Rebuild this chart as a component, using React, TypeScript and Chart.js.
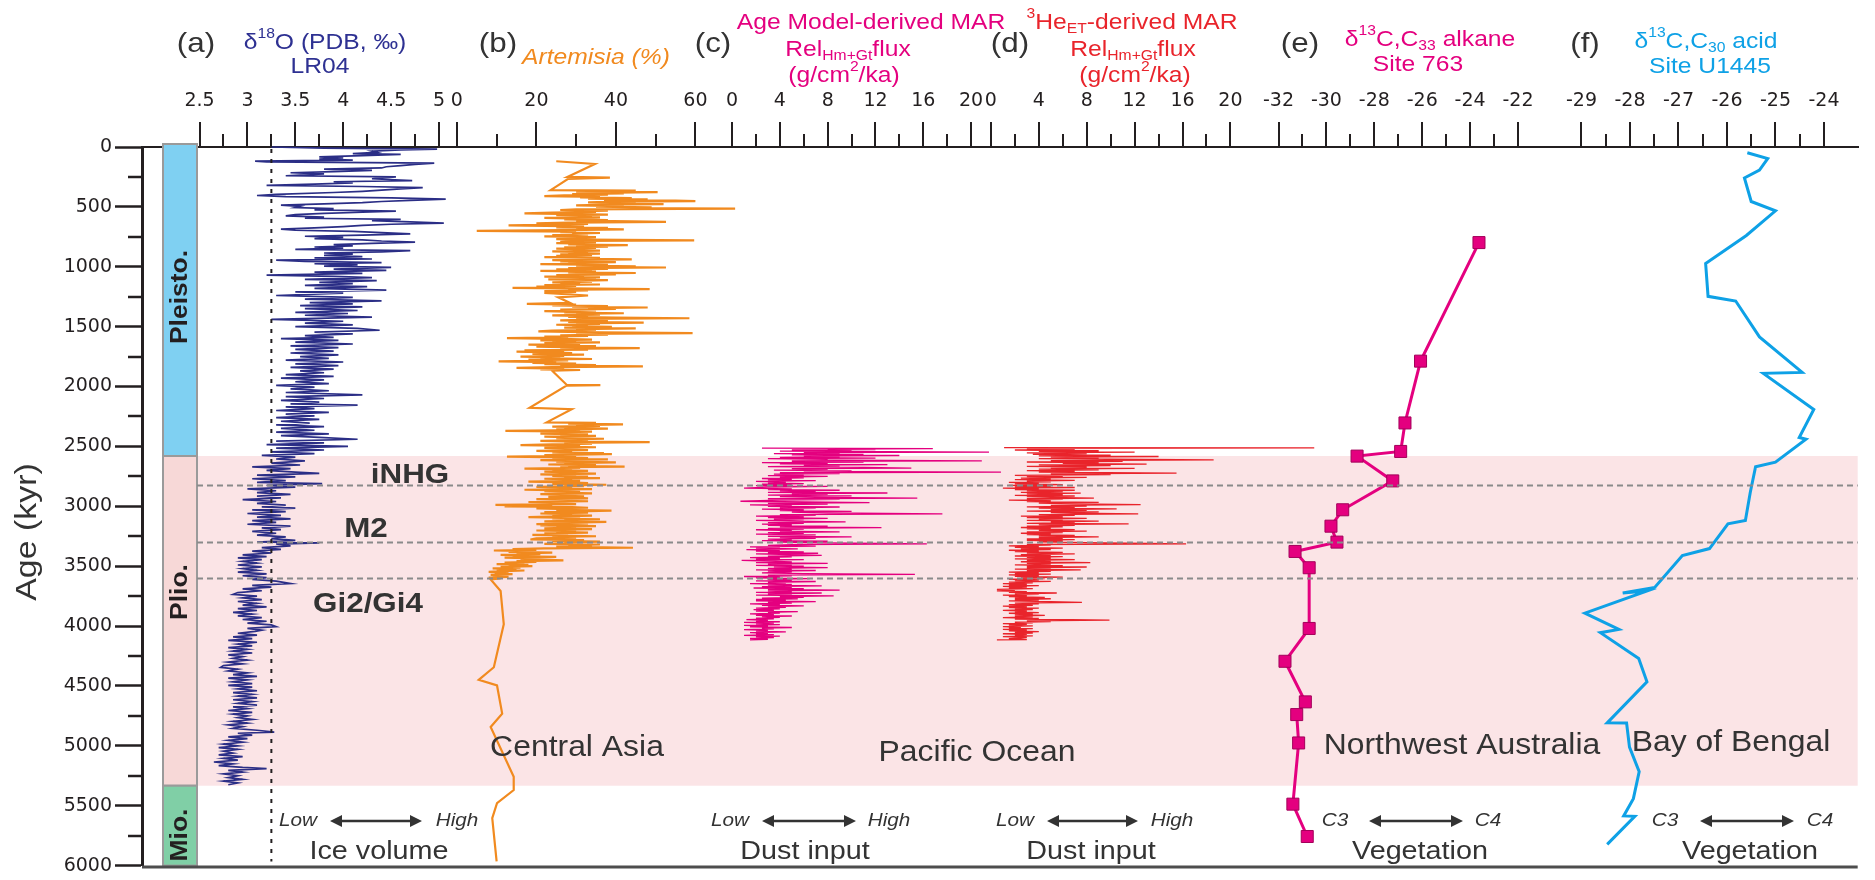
import React, { useEffect, useRef } from 'react';
import { Chart, registerables } from 'chart.js';

Chart.register(...registerables);

// ======================= DATA =======================
const AGE_TICKS = [0, 500, 1000, 1500, 2000, 2500, 3000, 3500, 4000, 4500, 5000, 5500, 6000];
const AGE_MINOR_TICKS = [250, 750, 1250, 1750, 2250, 2750, 3250, 3750, 4250, 4750, 5250, 5750];
const D18O_TICKS = [2.5, 3, 3.5, 4, 4.5, 5];
const D18O_MINOR_TICKS = [2.75, 3.25, 3.75, 4.25, 4.75];
const ARTEMISIA_TICKS = [0, 20, 40, 60];
const ARTEMISIA_MINOR_TICKS = [10, 30, 50];
const MAR_TICKS = [0, 4, 8, 12, 16, 20];
const MAR_MINOR_TICKS = [2, 6, 10, 14, 18];
const HE_TICKS = [0, 4, 8, 12, 16, 20];
const HE_MINOR_TICKS = [2, 6, 10, 14, 18];
const ALKANE_TICKS = [-32, -30, -28, -26, -24, -22];
const ALKANE_MINOR_TICKS = [-31, -29, -27, -25, -23];
const ACID_TICKS = [-29, -28, -27, -26, -25, -24];
const ACID_MINOR_TICKS = [-28.5, -27.5, -26.5, -25.5, -24.5];

const EPOCH_NAMES = ['Pleisto.', 'Plio.', 'Mio.'];
const EPOCH_BOUNDARIES = [0, 2580, 5333, 6000];
const PLIOCENE_BAND = [2580, 5333];
const EVENT_NAMES = ['iNHG', 'M2', 'Gi2/Gi4'];
const EVENT_AGES = [2820, 3300, 3600];
const ICE_VOLUME_REFERENCE = 3.25;

const REGION_NAMES = ['Central Asia', 'Pacific Ocean', 'Northwest Australia', 'Bay of Bengal'];
const PROXY_NAMES = ['Ice volume', 'Dust input', 'Dust input', 'Vegetation', 'Vegetation'];
const PROXY_LOW = ['Low', 'Low', 'Low', 'C3', 'C3'];
const PROXY_HIGH = ['High', 'High', 'High', 'C4', 'C4'];
const PANEL_LETTERS = ['(a)', '(b)', '(c)', '(d)', '(e)', '(f)'];

// [age kyr, δ18O ‰]
const LR04_D18O: [number, number][] = [
  [0, 3.25], [10, 3.8], [18, 4.98], [25, 4.6], [35, 4.3], [45, 4.35], [55, 4.1], [62, 4.6], [72, 4.2], [82, 3.75],
  [90, 4.0], [100, 3.75], [110, 4.1], [118, 3.08], [125, 3.2], [135, 4.95], [145, 4.75], [155, 4.6], [165, 4.45], [175, 4.4],
  [185, 3.8], [195, 4.3], [205, 3.9], [215, 3.45], [225, 3.8], [240, 3.4], [250, 4.55], [265, 4.3], [280, 4.72], [290, 3.9],
  [300, 4.1], [310, 3.7], [320, 3.2], [330, 4.2], [340, 4.83], [350, 4.6], [360, 4.4], [370, 4.2], [380, 3.9], [395, 3.3],
  [405, 3.1], [415, 3.4], [425, 4.5], [435, 5.07], [445, 4.7], [455, 4.4], [465, 4.2], [475, 3.8], [485, 3.35], [495, 3.55],
  [505, 3.5], [515, 3.9], [525, 3.7], [535, 4.55], [545, 4.2], [555, 3.8], [565, 3.5], [575, 3.4], [585, 3.8], [595, 3.6],
  [605, 4.6], [615, 4.3], [625, 4.7], [635, 5.05], [645, 4.5], [655, 4.2], [665, 4.0], [675, 3.7], [685, 3.35], [695, 3.5],
  [705, 4.1], [715, 4.4], [725, 4.7], [735, 4.2], [745, 3.6], [755, 4.0], [765, 3.7], [775, 4.2], [785, 4.4], [795, 4.75],
  [805, 4.3], [815, 3.9], [825, 4.1], [835, 3.7], [845, 4.0], [855, 3.5], [865, 4.7], [875, 4.4], [885, 3.8], [895, 4.1],
  [905, 3.8], [915, 4.2], [925, 3.7], [935, 4.3], [945, 3.3], [955, 3.6], [965, 4.4], [975, 3.7], [985, 4.15], [995, 3.8],
  [1005, 4.5], [1020, 3.9], [1030, 4.45], [1045, 3.7], [1055, 4.2], [1070, 3.2], [1080, 3.9], [1090, 4.3], [1105, 3.6], [1115, 4.35],
  [1130, 3.75], [1140, 4.1], [1155, 3.6], [1165, 4.25], [1180, 3.7], [1195, 4.45], [1210, 3.5], [1220, 4.0], [1240, 3.3], [1255, 4.1],
  [1270, 3.6], [1285, 4.4], [1300, 3.65], [1310, 4.1], [1325, 3.55], [1335, 4.2], [1350, 3.6], [1365, 4.15], [1380, 3.5], [1390, 4.05],
  [1405, 3.6], [1420, 4.3], [1440, 3.25], [1455, 4.0], [1470, 3.6], [1485, 4.1], [1500, 3.5], [1515, 4.15], [1530, 4.38], [1545, 3.7],
  [1560, 4.1], [1575, 3.6], [1590, 3.9], [1600, 3.35], [1615, 3.95], [1630, 3.5], [1645, 4.1], [1660, 3.45], [1675, 3.95], [1690, 3.5],
  [1705, 3.9], [1720, 3.45], [1735, 3.95], [1750, 3.55], [1765, 3.85], [1780, 3.4], [1795, 4.0], [1810, 3.5], [1825, 3.95], [1840, 3.45],
  [1855, 3.9], [1870, 3.55], [1885, 3.8], [1900, 3.4], [1915, 3.9], [1930, 3.35], [1945, 3.8], [1960, 3.5], [1975, 3.85], [1990, 3.3],
  [2005, 3.7], [2020, 3.45], [2035, 3.85], [2050, 3.4], [2070, 4.2], [2085, 3.4], [2100, 3.8], [2115, 3.35], [2130, 3.75], [2145, 3.45],
  [2155, 4.15], [2170, 3.4], [2185, 3.7], [2200, 3.3], [2215, 3.85], [2230, 3.4], [2245, 3.7], [2260, 3.3], [2275, 3.75], [2290, 3.35],
  [2305, 3.65], [2320, 3.3], [2335, 3.8], [2350, 3.35], [2365, 3.7], [2380, 3.3], [2395, 3.85], [2410, 3.35], [2425, 3.75], [2440, 4.15],
  [2455, 3.3], [2470, 3.8], [2485, 3.2], [2500, 4.05], [2515, 3.3], [2530, 3.8], [2545, 3.25], [2560, 3.7], [2575, 3.15], [2590, 3.5],
  [2605, 3.3], [2620, 3.6], [2640, 3.25], [2655, 3.55], [2670, 3.05], [2685, 3.45], [2700, 3.2], [2715, 3.5], [2725, 3.75], [2740, 3.1],
  [2755, 3.5], [2770, 3.05], [2785, 3.4], [2800, 3.1], [2810, 3.78], [2825, 3.2], [2840, 3.5], [2855, 3.0], [2870, 3.3], [2885, 3.1],
  [2900, 3.45], [2915, 3.1], [2930, 3.35], [2945, 2.95], [2960, 3.3], [2975, 3.1], [2990, 3.4], [3005, 3.15], [3015, 3.5], [3030, 3.05],
  [3045, 3.4], [3060, 3.0], [3075, 3.35], [3090, 3.1], [3105, 3.45], [3120, 3.05], [3135, 3.3], [3150, 3.0], [3165, 3.45], [3180, 3.15],
  [3195, 3.35], [3210, 3.05], [3225, 3.3], [3240, 3.1], [3255, 3.4], [3270, 3.25], [3285, 3.5], [3298, 3.1], [3305, 3.75], [3315, 3.3],
  [3330, 3.45], [3345, 3.15], [3360, 3.35], [3375, 3.05], [3390, 3.25], [3405, 2.95], [3420, 3.2], [3430, 2.9], [3445, 3.15], [3460, 2.95],
  [3475, 3.1], [3490, 2.9], [3505, 3.15], [3520, 2.95], [3535, 3.1], [3550, 2.9], [3565, 3.2], [3580, 2.95], [3595, 3.2], [3610, 3.05],
  [3625, 3.3], [3645, 3.45], [3660, 3.05], [3675, 3.25], [3690, 2.95], [3705, 3.15], [3720, 2.9], [3735, 2.85], [3750, 3.1], [3765, 2.95],
  [3780, 3.15], [3795, 2.9], [3810, 3.1], [3825, 2.95], [3840, 3.2], [3855, 2.9], [3870, 3.1], [3885, 2.85], [3900, 3.05], [3915, 2.9],
  [3930, 3.15], [3945, 2.95], [3960, 3.2], [3975, 3.0], [3990, 3.25], [4005, 3.3], [4020, 3.0], [4035, 3.15], [4045, 3.08], [4060, 2.9],
  [4075, 3.1], [4090, 2.85], [4105, 3.05], [4120, 2.8], [4135, 3.1], [4150, 2.9], [4165, 3.05], [4180, 2.8], [4195, 3.0], [4210, 2.85],
  [4225, 3.05], [4240, 2.8], [4255, 2.95], [4270, 2.85], [4285, 3.0], [4300, 2.8], [4315, 2.95], [4330, 2.75], [4345, 2.72], [4360, 2.9],
  [4375, 2.8], [4390, 3.0], [4405, 2.85], [4420, 3.1], [4435, 2.8], [4450, 3.0], [4465, 2.85], [4480, 3.05], [4495, 2.8], [4510, 3.05],
  [4525, 2.9], [4540, 3.1], [4555, 2.85], [4570, 3.05], [4585, 2.9], [4600, 3.1], [4615, 2.85], [4630, 3.05], [4645, 2.9], [4660, 3.1],
  [4675, 2.85], [4690, 3.0], [4705, 2.8], [4720, 3.05], [4735, 2.85], [4750, 3.0], [4765, 2.9], [4780, 3.05], [4795, 2.85], [4810, 3.0],
  [4825, 2.8], [4840, 2.95], [4855, 2.85], [4870, 3.1], [4885, 3.28], [4895, 2.9], [4910, 3.05], [4925, 2.8], [4940, 3.0], [4955, 2.8],
  [4970, 2.95], [4985, 2.75], [5000, 2.9], [5015, 2.7], [5030, 2.9], [5045, 2.75], [5060, 2.85], [5075, 2.7], [5090, 2.95], [5105, 2.75],
  [5120, 2.9], [5135, 2.65], [5150, 2.85], [5165, 2.7], [5180, 2.95], [5190, 3.2], [5205, 2.8], [5220, 2.95], [5235, 2.75], [5250, 2.9],
  [5265, 2.8], [5280, 2.95], [5295, 2.75], [5310, 2.9], [5325, 2.8],
];

// [age kyr, Artemisia %]
const ARTEMISIA: [number, number][] = [
  [119, 25], [142, 34.7], [250, 27.8], [255, 38.5], [266, 28], [360, 23.6],
  [365, 45], [372, 30], [377, 50.5], [383, 35], [388, 42], [393, 29], [398, 38], [404, 27], [410, 22], [416, 36],
  [421, 31], [427, 44], [432, 33], [438, 48], [443, 37], [447, 55], [452, 60], [456, 40], [462, 33], [467, 45],
  [472, 38], [477, 52], [482, 36], [487, 30], [493, 42], [498, 35], [504, 49], [510, 41], [515, 70], [520, 30],
  [526, 26], [531, 38], [537, 28], [542, 35], [548, 24], [554, 17], [560, 30], [565, 38], [570, 25], [576, 34],
  [581, 29], [587, 36], [592, 22], [598, 31], [604, 27], [610, 38], [615, 30], [620, 44], [626, 52.6], [632, 28],
  [637, 20], [643, 33], [648, 26], [654, 13], [660, 27], [665, 32], [671, 25], [676, 38], [682, 30], [688, 42],
  [694, 27], [701, 5], [706, 30], [712, 26], [718, 36], [723, 29], [729, 33], [735, 24], [741, 30], [746, 22],
  [752, 35], [758, 27], [763, 31], [769, 25], [774, 33], [779, 59.7], [785, 30], [791, 26], [797, 35], [803, 25],
  [808, 33], [814, 28], [820, 43], [826, 30], [832, 38], [837, 27], [843, 35], [849, 25], [855, 32], [860, 29],
  [866, 36], [872, 24], [878, 33], [884, 28], [890, 36], [896, 26], [902, 34], [908, 25], [914, 31], [920, 22],
  [926, 36], [932, 28], [938, 44], [944, 24], [950, 34], [956, 26], [962, 40], [968, 28], [973, 35], [978, 21],
  [984, 38], [990, 30], [996, 45], [1001, 33], [1006, 52.6], [1012, 28], [1017, 38], [1022, 25], [1028, 34], [1034, 21],
  [1040, 35], [1046, 28], [1052, 45], [1058, 30], [1064, 40], [1070, 25], [1076, 32], [1082, 22], [1088, 36], [1094, 27],
  [1100, 35], [1106, 23], [1112, 38], [1118, 29], [1124, 34], [1130, 24], [1136, 31], [1142, 26], [1148, 36], [1154, 22],
  [1160, 30], [1166, 20], [1172, 27], [1177, 14], [1182, 35], [1186, 48.5], [1192, 28], [1198, 33], [1204, 22], [1210, 30],
  [1219, 22], [1240, 33], [1255, 25.5], [1302, 28.5], [1310, 17.6], [1316, 30], [1322, 24], [1328, 38], [1334, 29], [1340, 48],
  [1346, 33], [1352, 40], [1358, 26], [1364, 35], [1370, 22], [1376, 31], [1382, 27], [1388, 42], [1394, 30], [1400, 36],
  [1406, 24], [1412, 33], [1418, 28], [1424, 40], [1430, 58.5], [1436, 30], [1442, 35], [1448, 26], [1454, 38], [1460, 28],
  [1466, 47], [1472, 30], [1478, 36], [1484, 25], [1490, 33], [1496, 29], [1502, 39], [1508, 27], [1514, 45], [1520, 30],
  [1526, 35], [1532, 24], [1540, 20.5], [1547, 36], [1554, 59.3], [1560, 30], [1566, 38], [1572, 26], [1578, 33], [1584, 22],
  [1590, 28], [1596, 12.6], [1602, 26], [1608, 34], [1614, 21], [1620, 30], [1626, 24], [1632, 36], [1638, 22], [1644, 31],
  [1650, 18], [1656, 28], [1662, 35], [1668, 20], [1674, 30], [1679, 46], [1685, 26], [1691, 33], [1697, 17], [1703, 27],
  [1709, 15], [1715, 24], [1721, 29], [1727, 19], [1733, 32], [1739, 22], [1745, 27], [1751, 16], [1757, 26], [1763, 21],
  [1770, 34], [1776, 18], [1782, 28], [1790, 10.5], [1796, 25], [1802, 19], [1808, 30], [1814, 22], [1820, 35], [1826, 26],
  [1831, 46.8], [1838, 24], [1844, 15], [1850, 27], [1856, 21], [1862, 31], [1868, 24], [1878, 24.3],
  [1985, 27.6], [1988, 36.1], [1992, 27.6], [2177, 18.3], [2189, 28.9], [2299, 22.6],
  [2303, 35], [2310, 28], [2316, 41.8], [2322, 30], [2328, 36], [2334, 24], [2340, 33], [2346, 27], [2352, 38], [2358, 25],
  [2364, 31], [2371, 12.2], [2376, 34], [2382, 24], [2388, 29], [2394, 21], [2400, 33], [2406, 26], [2412, 35], [2418, 22],
  [2424, 30], [2430, 25], [2436, 37], [2442, 28], [2448, 33], [2454, 21], [2460, 29], [2465, 48.5], [2471, 27], [2477, 34],
  [2483, 24], [2489, 16], [2495, 31], [2501, 26], [2507, 35], [2513, 22], [2519, 30], [2525, 25], [2531, 33], [2537, 20],
  [2543, 29], [2549, 24], [2555, 37], [2561, 28], [2565, 39], [2572, 22], [2578, 30], [2585, 12.6], [2591, 28], [2597, 33],
  [2603, 24], [2609, 38], [2615, 21], [2621, 31], [2627, 25], [2633, 40], [2639, 27], [2645, 33], [2651, 23], [2657, 35],
  [2662, 28], [2668, 42.2], [2674, 26], [2680, 31], [2686, 17], [2692, 29], [2698, 24], [2704, 33], [2710, 22], [2716, 28],
  [2722, 25], [2728, 35], [2734, 21], [2740, 30], [2746, 24], [2752, 33], [2758, 27], [2764, 36], [2770, 22], [2776, 29],
  [2782, 25], [2788, 31], [2794, 18], [2800, 28], [2806, 33], [2812, 24], [2820, 37.6], [2826, 27], [2832, 32], [2838, 20],
  [2844, 29], [2850, 24], [2856, 34], [2862, 17], [2868, 27], [2874, 22], [2880, 31], [2886, 26], [2892, 34], [2898, 21],
  [2904, 29], [2910, 25], [2916, 32], [2922, 23], [2928, 30], [2934, 33], [2940, 20], [2946, 28], [2952, 24], [2958, 33],
  [2964, 18], [2970, 27], [2976, 22], [2982, 30], [2988, 9.7], [2994, 24], [3000, 12], [3006, 29], [3012, 33], [3018, 20],
  [3024, 28], [3030, 25], [3036, 38.9], [3042, 30], [3048, 22], [3054, 33], [3060, 21], [3066, 29], [3072, 24], [3078, 34],
  [3084, 26], [3090, 18], [3096, 31], [3102, 24], [3108, 36], [3114, 27], [3120, 32], [3126, 22], [3130, 37.6], [3136, 28],
  [3142, 33], [3148, 20], [3154, 27], [3160, 21], [3166, 35], [3172, 25], [3178, 30], [3184, 22], [3190, 34], [3196, 27],
  [3202, 20], [3208, 30], [3214, 25], [3220, 33], [3226, 22], [3232, 28], [3238, 19], [3244, 26], [3250, 35], [3256, 24],
  [3262, 30], [3268, 20], [3277, 18.5], [3283, 32], [3289, 24], [3295, 36], [3301, 27], [3307, 31], [3313, 22], [3319, 36],
  [3325, 28], [3331, 34], [3337, 25], [3346, 44.3], [3352, 22], [3358, 14], [3364, 20], [3369, 9.3], [3375, 18], [3381, 13],
  [3387, 24], [3393, 15], [3399, 21], [3405, 11], [3411, 19], [3417, 14], [3423, 25], [3429, 12], [3435, 20], [3441, 16],
  [3447, 23], [3452, 26.8], [3458, 15], [3464, 20], [3470, 12], [3476, 17], [3482, 10], [3488, 18], [3494, 13], [3500, 19],
  [3506, 11], [3512, 16], [3518, 9], [3524, 15], [3530, 10], [3536, 17], [3542, 12], [3548, 8], [3554, 13], [3560, 9.5],
  [3566, 14], [3572, 8.5], [3578, 12], [3584, 9], [3590, 13], [3596, 8], [3602, 11], [3610, 8.5],
  [3707, 11], [3984, 11.8], [4344, 9.3], [4449, 5.5], [4496, 10.1], [4731, 11.4], [4842, 8.5], [5258, 14.3],
  [5369, 14.3], [5479, 10.1], [5604, 8.9], [5964, 10],
];

// [age kyr, Age-model-derived MAR g/cm2/ka]
const MAR_AGE_MODEL: [number, number][] = [
  [2515, 2.5], [2518, 16.8], [2522, 8], [2526, 12], [2530, 5], [2535, 10], [2540, 4], [2548, 21.5], [2552, 6], [2556, 9],
  [2561, 3.5], [2566, 11], [2571, 5], [2576, 14], [2581, 6], [2586, 9], [2591, 4], [2597, 12], [2602, 3], [2608, 8],
  [2613, 5], [2620, 20.9], [2625, 5], [2630, 11], [2635, 2.5], [2641, 8], [2646, 4], [2652, 13], [2657, 6], [2663, 9],
  [2669, 3], [2675, 11], [2681, 15], [2686, 5], [2692, 8], [2698, 3.5], [2704, 10], [2709, 6], [2715, 22.5], [2720, 4],
  [2726, 9], [2732, 3.5], [2738, 6], [2744, 3], [2750, 8], [2756, 4], [2762, 6], [2768, 2.5], [2774, 5], [2780, 3],
  [2786, 7], [2792, 2], [2798, 4.5], [2804, 3], [2810, 6], [2816, 2.5], [2822, 5], [2828, 2], [2834, 8], [2840, 3],
  [2848, 1], [2854, 5], [2860, 3], [2866, 9], [2872, 4], [2878, 7], [2884, 3], [2889, 13], [2895, 5], [2901, 8],
  [2907, 3], [2913, 10], [2919, 4], [2925, 7], [2931, 15.5], [2937, 3], [2943, 9], [2949, 4], [2958, 0.7], [2964, 6],
  [2970, 11.5], [2976, 3], [2982, 8], [2988, 1.5], [2994, 5], [3000, 3], [3006, 9], [3012, 4], [3018, 7], [3024, 2.5],
  [3030, 6], [3036, 4], [3042, 10], [3048, 5], [3056, 8], [3064, 17.6], [3070, 4], [3076, 7], [3082, 2], [3088, 6],
  [3094, 3], [3100, 8], [3106, 3.5], [3112, 6], [3118, 2], [3124, 5], [3130, 9.5], [3136, 3], [3142, 6], [3148, 2.5],
  [3154, 5], [3160, 3], [3166, 8], [3172, 4], [3178, 12.5], [3184, 3], [3190, 6], [3196, 2], [3202, 5], [3208, 4],
  [3214, 9], [3220, 3], [3226, 6], [3232, 2], [3238, 7], [3244, 5], [3250, 3], [3256, 10], [3262, 4], [3268, 7],
  [3274, 3], [3280, 5], [3286, 2.5], [3292, 8], [3298, 4], [3304, 6], [3313, 16.3], [3320, 5], [3326, 3], [3332, 7],
  [3338, 1.5], [3344, 4], [3350, 2], [3356, 5.5], [3362, 1.2], [3368, 4], [3374, 2], [3380, 6], [3386, 3], [3392, 7.2],
  [3398, 2], [3404, 5], [3410, 7.5], [3416, 3], [3422, 5], [3428, 1.5], [3434, 4], [3440, 2], [3446, 6], [3452, 0.8],
  [3458, 3], [3464, 5], [3470, 2], [3476, 8], [3482, 3], [3488, 5], [3494, 2], [3500, 6], [3506, 3.5], [3512, 8],
  [3518, 3], [3524, 5], [3530, 2], [3536, 7], [3542, 3], [3548, 5], [3556, 2.5], [3562, 6], [3568, 15.3], [3574, 3],
  [3580, 5], [3586, 1], [3592, 4], [3598, 2], [3604, 6.5], [3610, 3], [3616, 5], [3622, 2], [3628, 7], [3634, 3],
  [3640, 4.5], [3646, 1.5], [3652, 5], [3658, 3], [3664, 7.5], [3670, 2.5], [3676, 5], [3682, 1.8], [3688, 6], [3694, 3],
  [3700, 9], [3706, 3], [3712, 5], [3718, 2], [3724, 7.5], [3730, 3], [3736, 5], [3742, 2], [3748, 8.5], [3754, 4],
  [3760, 6], [3766, 2.5], [3772, 5.5], [3778, 2], [3784, 4.5], [3790, 2], [3796, 7], [3802, 3], [3808, 5], [3814, 1.5],
  [3820, 4], [3826, 2.5], [3832, 6], [3838, 3], [3844, 4.5], [3850, 2], [3856, 4], [3862, 1.8], [3868, 3.5], [3874, 2],
  [3880, 5.5], [3886, 3], [3892, 4], [3898, 1.5], [3904, 3.5], [3910, 2], [3916, 5], [3922, 2.5], [3928, 4], [3934, 2],
  [3940, 3.5], [3946, 1.2], [3952, 3], [3958, 2], [3964, 4], [3970, 1], [3976, 3.5], [3982, 2], [3988, 4], [3994, 1],
  [4000, 3], [4006, 1.5], [4012, 5], [4018, 2.5], [4024, 3.5], [4030, 1], [4036, 3], [4042, 2], [4048, 4.5], [4054, 1.5],
  [4060, 3], [4066, 2], [4072, 3.5], [4078, 1], [4084, 4], [4090, 2], [4096, 3.5], [4102, 1.5], [4110, 3], [4116, 1.5],
];

// [age kyr, 3He-derived MAR g/cm2/ka]
const MAR_HE3: [number, number][] = [
  [2510, 1.1], [2513, 27], [2518, 3], [2524, 7], [2530, 2], [2536, 9], [2542, 4], [2548, 12], [2554, 3], [2560, 8],
  [2566, 3.5], [2572, 10], [2578, 4], [2584, 14], [2590, 5], [2596, 9], [2602, 4], [2612, 18.6], [2618, 5], [2624, 11],
  [2630, 3], [2636, 9], [2642, 6], [2648, 13], [2654, 4], [2660, 10], [2666, 3], [2672, 8], [2678, 5], [2684, 12],
  [2690, 4], [2696, 9], [2702, 3], [2708, 7], [2714, 4], [2723, 15.5], [2729, 5], [2735, 10], [2741, 2], [2747, 6],
  [2753, 3], [2759, 8], [2765, 2.5], [2771, 5], [2777, 2], [2783, 7], [2789, 3], [2795, 5], [2801, 1.5], [2807, 4],
  [2813, 2], [2819, 6], [2825, 1.5], [2831, 5], [2837, 2], [2843, 7], [2848, 1], [2854, 4], [2860, 2], [2866, 7],
  [2872, 3], [2878, 6], [2884, 2.5], [2890, 7.5], [2896, 3], [2902, 6], [2908, 2], [2914, 7], [2920, 3], [2926, 5],
  [2931, 8.6], [2937, 3], [2943, 6], [2949, 1.5], [2955, 5], [2961, 3], [2967, 9], [2973, 4], [2979, 7], [2986, 12.5],
  [2992, 5], [2998, 8], [3004, 3], [3010, 7], [3016, 4], [3022, 10.5], [3028, 5], [3034, 8], [3040, 3], [3046, 9],
  [3052, 5], [3058, 7], [3064, 12.3], [3070, 4], [3076, 7], [3082, 2.5], [3088, 6], [3094, 3], [3100, 8], [3106, 4],
  [3112, 6], [3118, 3], [3124, 9], [3130, 5], [3136, 7], [3142, 3], [3147, 11.5], [3153, 4], [3159, 7], [3165, 3],
  [3171, 6], [3177, 2.5], [3183, 5], [3189, 3], [3195, 7], [3201, 4], [3207, 8], [3213, 3], [3219, 6], [3225, 2.5],
  [3231, 5], [3237, 3], [3243, 7], [3249, 4], [3255, 9], [3261, 4], [3267, 6], [3273, 3], [3279, 7], [3285, 3],
  [3291, 6], [3297, 4], [3303, 8], [3313, 16.3], [3319, 3], [3325, 5], [3331, 1.5], [3337, 4], [3343, 2], [3349, 6],
  [3355, 2.5], [3361, 5], [3367, 1.5], [3373, 4], [3379, 2], [3385, 6], [3391, 3], [3397, 7], [3403, 2.5], [3409, 5],
  [3415, 2], [3421, 6], [3427, 3], [3433, 5], [3439, 2], [3445, 7], [3451, 3], [3457, 5], [3463, 2.5], [3471, 8.3],
  [3477, 3], [3483, 5], [3489, 2], [3495, 6], [3501, 3], [3507, 8], [3513, 3], [3519, 5], [3525, 2], [3531, 7.5],
  [3537, 3], [3543, 5], [3549, 1.5], [3555, 4], [3561, 2], [3567, 5], [3573, 1.5], [3579, 4], [3585, 2], [3591, 6],
  [3597, 2.5], [3603, 4.5], [3609, 1.5], [3615, 4], [3621, 2], [3627, 5], [3633, 1.5], [3639, 3.5], [3645, 1], [3651, 3],
  [3657, 1.5], [3663, 4], [3669, 1], [3675, 3], [3681, 1.5], [3687, 3.5], [3693, 0.5], [3699, 2], [3706, 0.5], [3712, 3],
  [3718, 1.5], [3724, 5.5], [3730, 2], [3736, 4], [3742, 1], [3748, 3], [3754, 1.5], [3760, 4.5], [3766, 2], [3772, 5],
  [3778, 2], [3784, 4], [3790, 1.5], [3796, 5], [3803, 7.6], [3809, 2], [3815, 4], [3821, 1.5], [3827, 3.5], [3833, 1],
  [3839, 3], [3845, 1.5], [3851, 4], [3857, 2], [3863, 3.5], [3869, 1], [3875, 3], [3881, 2], [3887, 4], [3893, 1.5],
  [3899, 3.5], [3905, 2], [3911, 4.5], [3917, 2], [3923, 3.5], [3929, 1], [3935, 4], [3941, 2], [3950, 9.9], [3956, 3],
  [3962, 5], [3968, 2], [3974, 3.5], [3980, 1], [3986, 3], [3992, 1.5], [3998, 3.5], [4004, 1], [4010, 2.5], [4016, 1.5],
  [4022, 3.5], [4028, 1], [4034, 3], [4040, 1.5], [4046, 4], [4052, 2], [4058, 3.5], [4064, 1], [4070, 3], [4076, 2],
  [4082, 3.5], [4088, 1], [4094, 3], [4100, 2.5], [4106, 1.5], [4112, 3], [4116, 0.5],
];

// [age kyr, δ13C C33 alkane ‰] Site 763
const ALKANE_763: [number, number][] = [
  [798, -23.63], [1788, -26.07], [2304, -26.72], [2542, -26.9], [2581, -28.72], [2788, -27.23], [3029, -29.32],
  [3166, -29.81], [3299, -29.56], [3377, -31.31], [3513, -30.72], [4020, -30.72], [4294, -31.73], [4633, -30.88],
  [4739, -31.24], [4976, -31.16], [5487, -31.4], [5757, -30.8],
];

// [age kyr, δ13C C30 acid ‰] Site U1445
const ACID_U1445: [number, number][] = [
  [48, -25.58], [96, -25.16], [193, -25.33], [259, -25.64], [455, -25.5], [533, -25.0], [739, -25.6], [973, -26.44],
  [1247, -26.39], [1286, -25.82], [1586, -25.33], [1882, -24.45], [1890, -25.25], [2191, -24.21], [2425, -24.51],
  [2440, -24.37], [2631, -25.0], [2670, -25.41], [2885, -25.52], [3119, -25.62], [3146, -25.98], [3353, -26.36],
  [3411, -26.92], [3677, -27.49], [3724, -28.15], [3708, -27.66], [3892, -28.93], [4028, -28.23], [4055, -28.61],
  [4270, -27.82], [4465, -27.65], [4808, -28.47], [4810, -28.07], [5011, -28.01], [5215, -27.81], [5441, -27.93],
  [5585, -28.13], [5589, -27.9], [5823, -28.47],
];

// ======================= STYLE / LAYOUT =======================
const W = 1875;
const H = 880;
const INK = '#231f20';
const TEXT = '#333333';
const NAVY = '#2b2e86';
const ORANGE = '#f18a1f';
const MAGENTA = '#e4007f';
const RED = '#e9242b';
const CYAN = '#0ea1e6';
const BAND = '#fbe4e6';
const EPOCH_COLORS = ['#7fd0f2', '#f7d8d7', '#80cfa6'];
const FONT = "'Liberation Sans', Arial, Helvetica, sans-serif";
const TICK_FONT = "'DejaVu Sans', 'Liberation Sans', sans-serif";

const PLOT_LEFT = 142;
const PLOT_RIGHT = 1872;
const TOP_AXIS_HEIGHT = 147;
const COLUMN_X = [163, 197];

// anchors: [value0, px0, value1, px1]; slot: [left px, right px]
const PANELS = [
  { id: 'xa', ticks: D18O_TICKS, minor: D18O_MINOR_TICKS, anchor: [2.5, 200, 5, 441.5], slot: [PLOT_LEFT, 450.5] },
  { id: 'xb', ticks: ARTEMISIA_TICKS, minor: ARTEMISIA_MINOR_TICKS, anchor: [0, 459.5, 60, 700], slot: [450.5, 718] },
  { id: 'xc', ticks: MAR_TICKS, minor: MAR_MINOR_TICKS, anchor: [0, 737, 20, 978], slot: [718, 988] },
  { id: 'xd', ticks: HE_TICKS, minor: HE_MINOR_TICKS, anchor: [0, 998, 20, 1239.5], slot: [988, 1260] },
  { id: 'xe', ticks: ALKANE_TICKS, minor: ALKANE_MINOR_TICKS, anchor: [-32, 1288, -22, 1529.5], slot: [1260, 1562] },
  { id: 'xf', ticks: ACID_TICKS, minor: ACID_MINOR_TICKS, anchor: [-29, 1593.5, -24, 1838], slot: [1562, PLOT_RIGHT] },
];

function rangeFor(anchor: number[], slot: number[]) {
  const k = (anchor[3] - anchor[1]) / (anchor[2] - anchor[0]);
  return { min: anchor[0] + (slot[0] - anchor[1]) / k, max: anchor[0] + (slot[1] - anchor[1]) / k };
}

function xScale(p: any) {
  const { min, max } = rangeFor(p.anchor, p.slot);
  return {
    type: 'linear',
    position: 'top',
    stack: 'top',
    stackWeight: p.slot[1] - p.slot[0],
    min,
    max,
    afterBuildTicks: (s: any) => { s.ticks = p.ticks.map((v: number) => ({ value: v })); },
    afterFit: (s: any) => { s.height = TOP_AXIS_HEIGHT; },
    grid: { drawOnChartArea: false, drawTicks: true, tickLength: 25, tickWidth: 2, tickColor: INK, color: INK, lineWidth: 2 },
    border: { display: true, color: INK, width: 2 },
    ticks: {
      autoSkip: false, maxRotation: 0, minRotation: 0, padding: 10, color: INK,
      font: { family: TICK_FONT, size: 19 },
      callback: (v: any) => String(v),
    },
  };
}

type Seg = [string, 'n' | 'sup' | 'sub'];

function drawText(ctx: CanvasRenderingContext2D, text: string, x: number, y: number, size: number, color: string,
  opts: { bold?: boolean; italic?: boolean; sx?: number; align?: CanvasTextAlign; rotate?: number } = {}) {
  ctx.save();
  ctx.font = `${opts.italic ? 'italic ' : ''}${opts.bold ? 'bold ' : ''}${size}px ${FONT}`;
  ctx.fillStyle = color;
  ctx.textBaseline = 'middle';
  ctx.textAlign = opts.align || 'center';
  ctx.translate(x, y);
  if (opts.rotate) ctx.rotate(opts.rotate);
  ctx.scale(opts.sx ?? 1.12, 1);
  ctx.fillText(text, 0, 0);
  ctx.restore();
}

function drawRich(ctx: CanvasRenderingContext2D, segs: Seg[], cx: number, cy: number, size: number, color: string, italic = false, sx = 1.1) {
  const fontFor = (k: string) => `${italic ? 'italic ' : ''}${k === 'n' ? size : Math.round(size * 0.62)}px ${FONT}`;
  let w = 0;
  for (const [t, k] of segs) { ctx.font = fontFor(k); w += ctx.measureText(t).width; }
  ctx.save();
  ctx.translate(cx, cy);
  ctx.scale(sx, 1);
  ctx.fillStyle = color;
  ctx.textBaseline = 'middle';
  ctx.textAlign = 'left';
  let x = -w / 2;
  for (const [t, k] of segs) {
    ctx.font = fontFor(k);
    const dy = k === 'sup' ? -size * 0.4 : k === 'sub' ? size * 0.3 : 0;
    ctx.fillText(t, x, dy);
    x += ctx.measureText(t).width;
  }
  ctx.restore();
}

function drawArrow(ctx: CanvasRenderingContext2D, x1: number, x2: number, y: number) {
  ctx.save();
  ctx.strokeStyle = TEXT;
  ctx.fillStyle = TEXT;
  ctx.lineWidth = 2.5;
  ctx.beginPath();
  ctx.moveTo(x1 + 8, y);
  ctx.lineTo(x2 - 8, y);
  ctx.stroke();
  ctx.beginPath();
  ctx.moveTo(x1, y); ctx.lineTo(x1 + 12, y - 6); ctx.lineTo(x1 + 12, y + 6); ctx.closePath();
  ctx.moveTo(x2, y); ctx.lineTo(x2 - 12, y - 6); ctx.lineTo(x2 - 12, y + 6); ctx.closePath();
  ctx.fill();
  ctx.restore();
}

const TITLE_LINES: { segs: Seg[]; x: number; y: number; color: string; italic?: boolean }[] = [
  { segs: [['δ', 'n'], ['18', 'sup'], ['O (PDB, ‰)', 'n']], x: 325, y: 43, color: '#2e3192' },
  { segs: [['LR04', 'n']], x: 320, y: 67, color: '#2e3192' },
  { segs: [['Artemisia (%)', 'n']], x: 596, y: 58, color: ORANGE, italic: true },
  { segs: [['Age Model-derived MAR', 'n']], x: 871, y: 23, color: MAGENTA },
  { segs: [['Rel', 'n'], ['Hm+Gt', 'sub'], ['flux', 'n']], x: 848, y: 50, color: MAGENTA },
  { segs: [['(g/cm', 'n'], ['2', 'sup'], ['/ka)', 'n']], x: 844, y: 76, color: MAGENTA },
  { segs: [['3', 'sup'], ['He', 'n'], ['ET', 'sub'], ['-derived MAR', 'n']], x: 1132, y: 23, color: RED },
  { segs: [['Rel', 'n'], ['Hm+Gt', 'sub'], ['flux', 'n']], x: 1133, y: 50, color: RED },
  { segs: [['(g/cm', 'n'], ['2', 'sup'], ['/ka)', 'n']], x: 1135, y: 76, color: RED },
  { segs: [['δ', 'n'], ['13', 'sup'], ['C,C', 'n'], ['33', 'sub'], [' alkane', 'n']], x: 1430, y: 40, color: MAGENTA },
  { segs: [['Site 763', 'n']], x: 1418, y: 65, color: MAGENTA },
  { segs: [['δ', 'n'], ['13', 'sup'], ['C,C', 'n'], ['30', 'sub'], [' acid', 'n']], x: 1706, y: 42, color: CYAN },
  { segs: [['Site U1445', 'n']], x: 1710, y: 67, color: CYAN },
];
const LETTER_POS = [[196, 44], [498, 44], [713, 44], [1010, 44], [1300, 44], [1585, 44]];
const REGION_POS = [[577, 748], [977, 753], [1462, 746], [1731, 743]];
const EVENT_LABEL_POS = [[410, 475], [366, 529], [368, 604]];
const EPOCH_LABEL_Y = [297, 592, 835];
// [low label x, arrow start, arrow end, high label x, name x]
const PROXY_POS = [
  [298, 330, 422, 457, 379],
  [730, 762, 856, 889, 805],
  [1015, 1047, 1138, 1172, 1091],
  [1335, 1369, 1463, 1488, 1420],
  [1665, 1700, 1794, 1820, 1750],
];

const decorPlugin = {
  id: 'decor',
  beforeDatasetsDraw(chart: any) {
    const { ctx, chartArea, scales } = chart;
    const y = scales.y;
    ctx.save();
    const b0 = y.getPixelForValue(PLIOCENE_BAND[0]);
    const b1 = y.getPixelForValue(PLIOCENE_BAND[1]);
    ctx.fillStyle = BAND;
    ctx.fillRect(COLUMN_X[1], b0, chartArea.right - COLUMN_X[1], b1 - b0);
    // chronostratigraphic column
    for (let i = 0; i < EPOCH_NAMES.length; i++) {
      const t = y.getPixelForValue(EPOCH_BOUNDARIES[i]) - (i === 0 ? 3 : 0);
      const bt = y.getPixelForValue(EPOCH_BOUNDARIES[i + 1]);
      ctx.fillStyle = EPOCH_COLORS[i];
      ctx.fillRect(COLUMN_X[0], t, COLUMN_X[1] - COLUMN_X[0], bt - t);
      ctx.strokeStyle = '#9a9a9a';
      ctx.lineWidth = 2;
      ctx.strokeRect(COLUMN_X[0], t, COLUMN_X[1] - COLUMN_X[0], bt - t);
    }
    ctx.restore();
  },
  afterDatasetsDraw(chart: any) {
    const { ctx, chartArea, scales } = chart;
    const y = scales.y;
    ctx.save();
    // event dashed lines
    ctx.strokeStyle = '#8a8a8a';
    ctx.lineWidth = 2;
    ctx.setLineDash([6, 4]);
    for (const age of EVENT_AGES) {
      const py = Math.round(y.getPixelForValue(age)) + 0.5;
      ctx.beginPath();
      ctx.moveTo(COLUMN_X[1], py);
      ctx.lineTo(chartArea.right, py);
      ctx.stroke();
    }
    // ice-volume reference dotted line
    const dx = scales.xa.getPixelForValue(ICE_VOLUME_REFERENCE);
    ctx.strokeStyle = INK;
    ctx.setLineDash([4, 6]);
    ctx.beginPath();
    ctx.moveTo(dx, chartArea.top + 2);
    ctx.lineTo(dx, chartArea.bottom - 4);
    ctx.stroke();
    ctx.setLineDash([]);
    // bottom frame line
    ctx.strokeStyle = '#4d4d4d';
    ctx.lineWidth = 3;
    ctx.beginPath();
    ctx.moveTo(chartArea.left, chartArea.bottom + 1.5);
    ctx.lineTo(chartArea.right, chartArea.bottom + 1.5);
    ctx.stroke();
    ctx.restore();

    // event labels
    EVENT_NAMES.forEach((t, i) => drawText(ctx, t, EVENT_LABEL_POS[i][0], EVENT_LABEL_POS[i][1], 28, TEXT, { bold: true, sx: 1.12 }));
    // epoch labels
    EPOCH_NAMES.forEach((t, i) => drawText(ctx, t, (COLUMN_X[0] + COLUMN_X[1]) / 2 + 1, EPOCH_LABEL_Y[i], 23, INK, { bold: true, sx: 1.15, rotate: -Math.PI / 2 }));
    // region labels
    REGION_NAMES.forEach((t, i) => drawText(ctx, t, REGION_POS[i][0], REGION_POS[i][1], 29, TEXT, { sx: 1.1 }));
    // proxy direction labels
    PROXY_NAMES.forEach((t, i) => {
      const p = PROXY_POS[i];
      drawText(ctx, PROXY_LOW[i], p[0], 821, 18, TEXT, { italic: true, sx: 1.15 });
      drawArrow(ctx, p[1], p[2], 821);
      drawText(ctx, PROXY_HIGH[i], p[3], 821, 18, TEXT, { italic: true, sx: 1.15 });
      drawText(ctx, t, p[4], 852, 25, TEXT, { sx: 1.15 });
    });
    // panel letters and titles
    PANEL_LETTERS.forEach((t, i) => drawText(ctx, t, LETTER_POS[i][0], LETTER_POS[i][1], 28, TEXT, { sx: 1.12 }));
    TITLE_LINES.forEach((l) => drawRich(ctx, l.segs, l.x, l.y, 22, l.color, !!l.italic, 1.12));
    // y axis title
    drawText(ctx, 'Age (kyr)', 28, 532, 30, TEXT, { sx: 1.13, rotate: -Math.PI / 2 });
  },
  afterDraw(chart: any) {
    const { ctx, chartArea, scales } = chart;
    ctx.save();
    ctx.strokeStyle = INK;
    ctx.lineWidth = 2;
    for (const p of PANELS) {
      const s = scales[p.id];
      for (const v of p.minor) {
        const px = Math.round(s.getPixelForValue(v));
        ctx.beginPath();
        ctx.moveTo(px, chartArea.top);
        ctx.lineTo(px, chartArea.top - 13);
        ctx.stroke();
      }
    }
    ctx.lineWidth = 2.5;
    for (const v of AGE_MINOR_TICKS) {
      const py = Math.round(scales.y.getPixelForValue(v));
      ctx.beginPath();
      ctx.moveTo(chartArea.left, py);
      ctx.lineTo(chartArea.left - 14, py);
      ctx.stroke();
    }
    ctx.restore();
  },
};

function line(pairs: [number, number][], xAxisID: string, color: string, width: number) {
  return {
    type: 'line',
    data: pairs.map(([age, v]) => ({ x: v, y: age })),
    xAxisID,
    yAxisID: 'y',
    borderColor: color,
    backgroundColor: color,
    borderWidth: width,
    pointRadius: 0,
    tension: 0,
    fill: false,
    clip: false,
    borderJoinStyle: 'miter',
  };
}

export default function App() {
  const ref = useRef<HTMLCanvasElement>(null);
  useEffect(() => {
    const canvas = ref.current!;
    const scales: any = {
      y: {
        type: 'linear',
        position: 'left',
        reverse: true,
        min: 0,
        max: 6000,
        afterBuildTicks: (s: any) => { s.ticks = AGE_TICKS.map((v) => ({ value: v })); },
        afterFit: (s: any) => { s.width = PLOT_LEFT; },
        grid: { drawOnChartArea: false, drawTicks: true, tickLength: 27, tickWidth: 2.5, tickColor: INK, color: INK },
        border: { display: true, color: INK, width: 3 },
        ticks: { padding: 3, color: INK, font: { family: TICK_FONT, size: 19 }, callback: (v: any) => String(v), autoSkip: false },
      },
    };
    // defined right-to-left: top boxes are laid out in reverse order
    [...PANELS].reverse().forEach((p) => { scales[p.id] = xScale(p); });

    const alkane: any = {
      ...line(ALKANE_763, 'xe', MAGENTA, 3),
      pointStyle: 'rect',
      pointRadius: 8.5,
      pointBackgroundColor: MAGENTA,
      pointBorderColor: '#a3005a',
      pointBorderWidth: 1,
    };

    const chart = new Chart(canvas, {
      type: 'line',
      data: {
        datasets: [
          alkane,
          line(ACID_U1445, 'xf', CYAN, 3),
          line(MAR_AGE_MODEL, 'xc', MAGENTA, 1.3),
          line(MAR_HE3, 'xd', RED, 1.3),
          line(ARTEMISIA, 'xb', ORANGE, 2.2),
          line(LR04_D18O, 'xa', NAVY, 1.7),
        ] as any,
      },
      options: {
        animation: false,
        responsive: false,
        maintainAspectRatio: false,
        devicePixelRatio: 1,
        events: [],
        layout: { autoPadding: false, padding: { top: 0, left: 0, right: W - PLOT_RIGHT, bottom: 11 } },
        plugins: { legend: { display: false }, tooltip: { enabled: false }, title: { display: false } },
        scales,
      } as any,
      plugins: [decorPlugin],
    });
    return () => chart.destroy();
  }, []);
  return (
    <div style={{ position: 'absolute', left: 0, top: 0, width: W, height: H, background: '#fff' }}>
      <canvas ref={ref} width={W} height={H} style={{ display: 'block', width: `${W}px`, height: `${H}px` }} />
    </div>
  );
}
